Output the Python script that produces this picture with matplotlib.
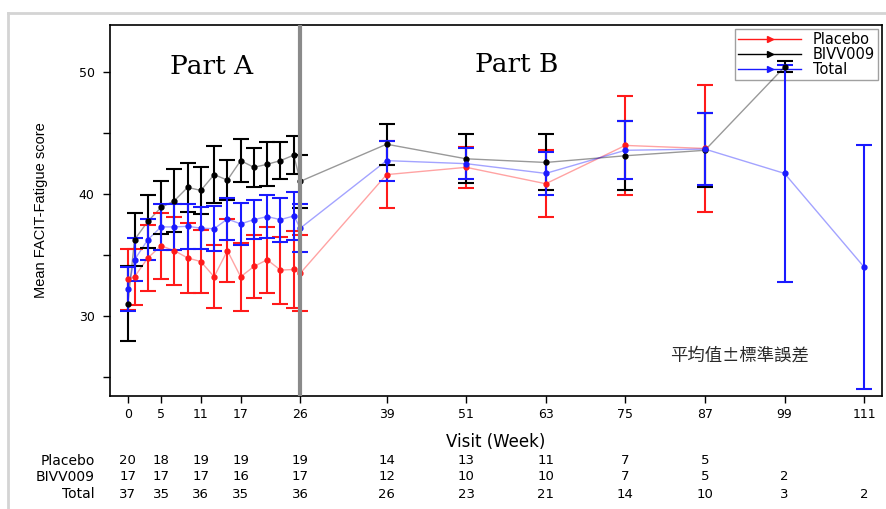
import numpy as np
import matplotlib
matplotlib.use("Agg")
import matplotlib.pyplot as plt
import matplotlib.transforms as mtransforms
from matplotlib.legend_handler import HandlerLine2D
from matplotlib.lines import Line2D

plt.rcParams["font.family"] = ["DejaVu Sans"]

# Visit weeks (Part A: weeks 0-26, Part B: 26-111)
weeks = [0, 1, 3, 5, 7, 9, 11, 13, 15, 17, 19, 21, 23, 25, 26,
         39, 51, 63, 75, 87, 99, 111]

nan = np.nan
placebo_mean = [33.0, 33.2, 34.75, 35.75, 35.35, 34.75, 34.45, 33.2, 35.35, 33.2,
                34.05, 34.6, 33.75, 33.8, 33.5, 41.6, 42.2, 40.85, 44.0, 43.75, nan, nan]
placebo_se = [2.5, 2.3, 2.7, 2.7, 2.8, 2.9, 2.6, 2.6, 2.6, 2.8,
              2.6, 2.7, 2.75, 3.2, 3.1, 2.75, 1.7, 2.75, 4.1, 5.2, nan, nan]

bivv009_mean = [31.0, 36.25, 37.75, 38.9, 39.45, 40.55, 40.3, 41.6, 41.15, 42.75,
                42.2, 42.45, 42.75, 43.2, 41.05, 44.1, 42.9, 42.6, 43.15, 43.6, 50.45, nan]
bivv009_se = [3.1, 2.2, 2.2, 2.15, 2.6, 2.0, 1.9, 2.35, 1.65, 1.75,
              1.6, 1.8, 1.5, 1.55, 2.2, 1.7, 2.0, 2.3, 2.85, 3.05, 0.45, nan]

total_mean = [32.2, 34.6, 36.25, 37.3, 37.3, 37.35, 37.2, 37.15, 37.95, 37.55,
              37.9, 38.15, 37.9, 38.2, 37.2, 42.75, 42.5, 41.7, 43.6, 43.7, 41.7, 34.0]
total_se = [1.8, 1.75, 1.7, 1.9, 1.9, 1.85, 1.75, 1.85, 1.7, 1.7,
            1.6, 1.8, 1.8, 1.95, 2.0, 1.65, 1.3, 1.8, 2.4, 2.95, 8.9, 10.0]

# Labelled visits and number of subjects at each
tick_weeks = [0, 5, 11, 17, 26, 39, 51, 63, 75, 87, 99, 111]
n_placebo = [20, 18, 19, 19, 19, 14, 13, 11, 7, 5, None, None]
n_bivv009 = [17, 17, 17, 16, 17, 12, 10, 10, 7, 5, 2, None]
n_total = [37, 35, 36, 35, 36, 26, 23, 21, 14, 10, 3, 2]

series = [
    ("Placebo", placebo_mean, placebo_se, "#ff1a1a"),
    ("BIVV009", bivv009_mean, bivv009_se, "#000000"),
    ("Total", total_mean, total_se, "#1a1aff"),
]

W, H = 886, 509
fig = plt.figure(figsize=(W / 100, H / 100), dpi=100)
ax = fig.add_axes([110 / W, 1 - 396 / H, 772 / W, 371 / H])

for name, mean, se, color in series:
    ax.plot(weeks, mean, color=color, lw=1.0, alpha=0.4, zorder=2)
    ax.errorbar(weeks, mean, yerr=se, fmt="o", ms=3.5, color=color,
                ecolor=color, elinewidth=1.5, capsize=5.5, capthick=1.5, zorder=3)

# Boundary between Part A and Part B
ax.axvline(26, color="#8a8a8a", lw=3, zorder=6)

ax.set_xlim(-2.7, 113.7)
ax.set_ylim(23.4, 53.9)
ax.set_xticks(tick_weeks)
ax.set_xticklabels([str(w) for w in tick_weeks])
ax.set_yticks([30, 40, 50])
ax.set_yticks([25, 35, 45], minor=True)
ax.tick_params(axis="both", which="both", direction="out", length=5, width=1,
               labelsize=9, colors="#000000")
ax.tick_params(axis="x", pad=4)
ax.tick_params(axis="y", pad=6)
for sp in ax.spines.values():
    sp.set_linewidth(1.2)

ax.set_ylabel("Mean FACIT-Fatigue score", fontsize=10.5, labelpad=22,
              family=["Liberation Sans", "DejaVu Sans"])
ax.set_xlabel("Visit (Week)", fontsize=12, labelpad=8)

ax.text(0.132, 0.887, "Part A", transform=ax.transAxes, ha="center", va="center",
        fontsize=19, family=["DejaVu Serif"])
ax.text(0.527, 0.893, "Part B", transform=ax.transAxes, ha="center", va="center",
        fontsize=19, family=["DejaVu Serif"])
ax.text(0.816, 0.11, "平均值±標準誤差", transform=ax.transAxes,
        ha="center", va="center", fontsize=12.5,
        family=["Noto Sans CJK TC", "DejaVu Sans"], color="#2a2a2a")


class EndMarkerHandler(HandlerLine2D):
    def get_xdata(self, legend, xdescent, ydescent, width, height, fontsize):
        xdata = np.array([-xdescent, -xdescent + width])
        return xdata, np.array([-xdescent + width])


handles = [Line2D([], [], color=c, lw=1.0, marker=">", ms=4) for _, _, _, c in series]
leg = ax.legend(handles, [s[0] for s in series], loc="upper right",
                fontsize=10.5, handlelength=4.3, handletextpad=0.8, labelspacing=0.0,
                borderpad=0.2, borderaxespad=0.3, fancybox=False, framealpha=1,
                edgecolor="#a0a0a0", handler_map={Line2D: EndMarkerHandler()})
leg.get_frame().set_linewidth(1.0)
leg.set_zorder(1)

# Subject counts under each labelled visit
trans = mtransforms.blended_transform_factory(ax.transData, fig.transFigure)
rows = [("Placebo", n_placebo, 1 - 461 / H),
        ("BIVV009", n_bivv009, 1 - 477 / H),
        ("Total", n_total, 1 - 494 / H)]
for label, counts, y in rows:
    fig.text(95 / W, y, label, ha="right", va="center", fontsize=10)
    for w, n in zip(tick_weeks, counts):
        if n is not None:
            fig.text(w, y, str(n), transform=trans, ha="center", va="center", fontsize=9.5)

# Light outer frame
fig.add_artist(Line2D([8 / W, 8 / W], [0, 1 - 13 / H], transform=fig.transFigure,
                      color="#d4d4d4", lw=2))
fig.add_artist(Line2D([8 / W, 1], [1 - 13 / H, 1 - 13 / H], transform=fig.transFigure,
                      color="#d4d4d4", lw=2))

fig.savefig("out.png", dpi=100)
